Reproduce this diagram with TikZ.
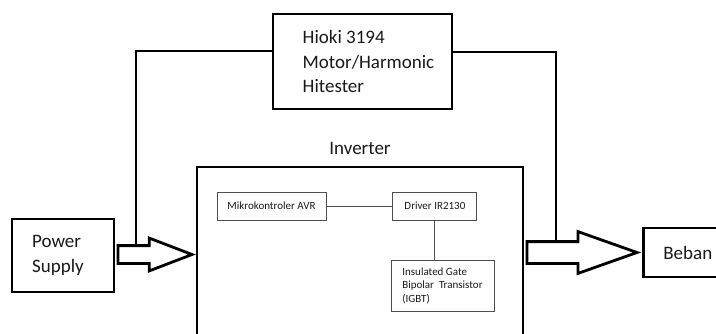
\documentclass[tikz,border=0pt]{standalone}
\usepackage{fontspec}
\setmainfont{Carlito}
\usepackage{xcolor}
\definecolor{tinta}{RGB}{25,25,25}
\definecolor{garis}{RGB}{80,80,80}
\usepackage{tikz}
\usetikzlibrary{positioning,calc,shapes.arrows}

\begin{document}
\begin{tikzpicture}[x=1pt,y=-1pt,
    blok/.style={draw,line width=2.8pt,align=left,text=tinta,
      font=\fontsize{19}{24.5}\selectfont},
    modul/.style={draw=garis,line width=0.9pt,align=left,text=tinta,
      minimum height=28pt,font=\fontsize{11}{13.5}\selectfont},
    panah/.style={single arrow,draw,line width=2.8pt,fill=white,
      inner xsep=0pt,outer sep=0pt},
    kabel/.style={line width=2.6pt},
    sambung/.style={draw=garis,line width=1pt}
  ]
  \useasboundingbox (0,0) rectangle (716,333);

  % blok utama
  \node[blok,minimum width=179pt,minimum height=95pt] (hioki) at (362.5,61.5)
    {\hspace*{12pt}Hioki 3194\\\hspace*{12pt}Motor/Harmonic\\\hspace*{12pt}Hitester};
  \node[blok,minimum width=102pt,minimum height=73pt] (ps) at (63,255.5)
    {Power\\Supply\hspace*{10pt}};
  \node[blok,minimum width=326pt,minimum height=193pt] (inv) at (360,263.5) {};
  \node[above=7pt of inv,text=tinta,
    font=\fontsize{19}{24.5}\selectfont] (invlabel) {Inverter};

  % isi inverter
  \node[modul,minimum width=109pt] (avr) at (271.5,206) {Mikrokontroler AVR};
  \node[modul,minimum width=84pt,right=66pt of avr] (drv) {Driver IR2130};
  \node[modul,minimum width=103pt,minimum height=51pt] (igbt) at (442.5,285.5)
    {Insulated Gate\\Bipolar~ Transistor\\(IGBT)};

  % panah daya
  \node[panah,inner ysep=7.5pt,single arrow head extend=7.5pt,
    single arrow tip angle=42,minimum height=74pt,
    anchor=tail] (masuk) at (118,254.5) {};
  \node[panah,inner ysep=9.5pt,single arrow head extend=10pt,
    single arrow tip angle=39,minimum height=110pt,
    anchor=tail] (keluar) at (527,252.5) {};
  \node[blok,minimum height=49pt,text width=60pt,inner xsep=20pt,
    right=5pt of keluar] (beban) {Beban};

  % kabel ukur
  \coordinate (tapmasuk) at ($(masuk.tail)+(18,-7.5)$);
  \coordinate (tapkeluar) at ($(keluar.tail)+(29,-9.5)$);
  \draw[kabel] ([yshift=10.5pt]hioki.west) -| (tapmasuk);
  \draw[kabel] ([yshift=9.5pt]hioki.east) -| (tapkeluar);

  \draw[sambung] (avr) -- (drv);
  \draw[sambung] (drv) -- (drv.south |- igbt.north);
\end{tikzpicture}
\end{document}
